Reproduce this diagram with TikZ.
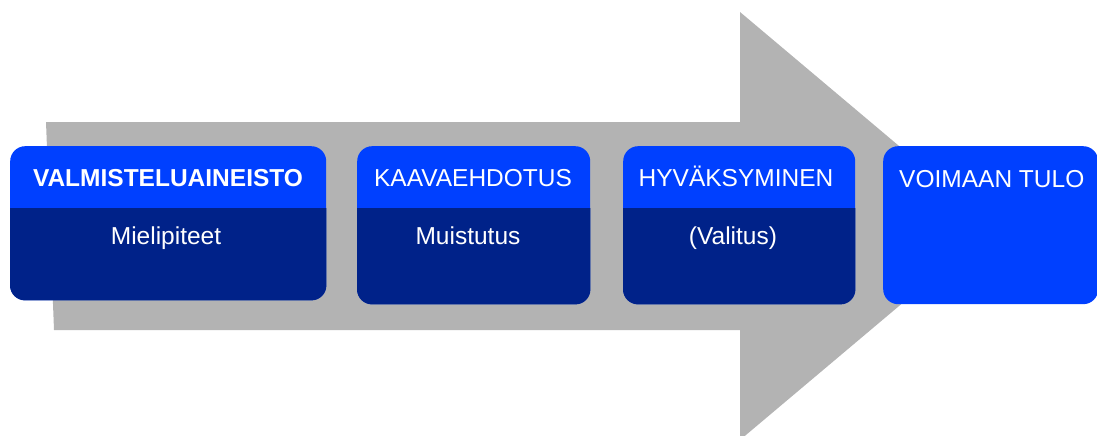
\documentclass[tikz,border=0pt]{standalone}
\usepackage{fontspec}
\setmainfont{Liberation Sans}
\usepackage{tikz}
\definecolor{headblue}{RGB}{0,64,255}
\definecolor{bodyblue}{RGB}{0,34,137}
\definecolor{arrowgray}{RGB}{179,179,179}

\begin{document}
\begin{tikzpicture}[x=1pt,y=-1pt]
\tikzset{stagebox/.style={fill=headblue,rounded corners=15pt,inner sep=0pt,minimum height=158pt,anchor=north west},
steplabel/.style={text=white,inner sep=0pt,anchor=base,font=\fontsize{24.5}{29}\selectfont}}
\useasboundingbox (0,0) rectangle (1097,436);
\fill[arrowgray] (46,122) -- (740,122) -- (740,12) -- (994,226) -- (740,440) -- (740,330) -- (54,330) -- cycle;

\node[stagebox,minimum width=316pt,minimum height=154pt] (valm) at (10,146) {};
\node[stagebox,minimum width=233pt] (kaava) at (357,146) {};
\node[stagebox,minimum width=232pt] (hyv) at (623,146) {};
\node[stagebox,minimum width=215pt] (voim) at (883,146) {};
\foreach \n in {valm,kaava,hyv}
  \fill[bodyblue] (\n.west |- 0,208) [rounded corners=15pt] -- (\n.south west) -- (\n.south east) [sharp corners] -- (\n.east |- 0,208) -- cycle;

\node[steplabel] (valmhead) at (168,186) {\bfseries VALMISTELUAINEISTO};
\node[steplabel] (valmbody) at (166,244) {Mielipiteet};
\node[steplabel] (kaavahead) at (473,186) {KAAVAEHDOTUS};
\node[steplabel] (kaavabody) at (468,244) {Muistutus};
\node[steplabel] (hyvhead) at (736,186) {HYVÄKSYMINEN};
\node[steplabel] (hyvbody) at (733,244) {(Valitus)};
\node[steplabel,anchor=base west] (voimhead) at (899,187) {VOIMAAN TULO};
\end{tikzpicture}
\end{document}
